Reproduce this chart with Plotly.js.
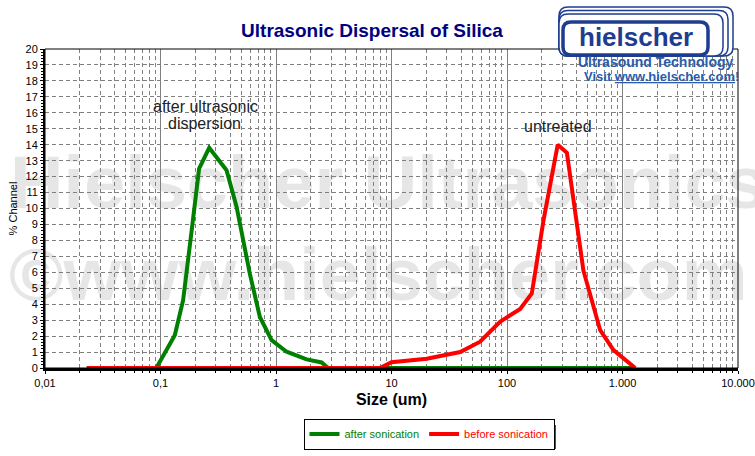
<!DOCTYPE html>
<html>
<head>
<meta charset="utf-8">
<script src="https://cdn.plot.ly/plotly-3.0.1.min.js"></script>
<style>
  html, body { margin: 0; padding: 0; background: #fff; }
  #chart { width: 755px; height: 456px; }
</style>
</head>
<body>
<div id="chart"></div>
<script>
// particle size (um) and % channel
const sizeAfter = [0.023, 0.092, 0.133, 0.157, 0.186, 0.216, 0.264, 0.373, 0.456, 0.594, 0.725, 0.916, 1.236, 1.84, 2.48, 2.83, 1290];
const chanAfter = [0, 0, 2.06, 4.25, 8.6, 12.5, 13.8, 12.4, 10.1, 5.9, 3.2, 1.75, 1.02, 0.54, 0.35, 0, 0];

const sizeBefore = [0.023, 7.94, 10, 20.2, 39.3, 58.5, 87, 130, 164, 207, 275, 330, 459, 641, 836, 1290];
const chanBefore = [0, 0, 0.36, 0.58, 1.0, 1.65, 2.9, 3.7, 4.67, 9.25, 14.0, 13.5, 6.1, 2.37, 1.12, 0];

const xTickVals = [0.01, 0.1, 1, 10, 100, 1000, 10000];
const xTickText = ['0,01', '0,1', '1', '10', '100', '1.000', '10.000'];

const FONT = 'Arial, "Liberation Sans", sans-serif';
const NAVY = '#1f3d8f';

// plot area in pixels: x 45..738, y 49..368
const W = 755, H = 456;
const L = 45, R = 738, T = 49, B = 368;
const px = x => (x - L) / (R - L);
const py = y => (B - y) / (B - T);

function roundRect(x0, y0, x1, y1, r) {
  const p = (x, y) => px(x) + ',' + py(y);
  return 'M' + p(x0 + r, y0) + ' L' + p(x1 - r, y0) + ' Q' + p(x1, y0) + ' ' + p(x1, y0 + r) +
    ' L' + p(x1, y1 - r) + ' Q' + p(x1, y1) + ' ' + p(x1 - r, y1) +
    ' L' + p(x0 + r, y1) + ' Q' + p(x0, y1) + ' ' + p(x0, y1 - r) +
    ' L' + p(x0, y0 + r) + ' Q' + p(x0, y0) + ' ' + p(x0 + r, y0) + ' Z';
}

function note(text, x, y, font) {
  return { text: text, x: px(x), y: py(y), xref: 'paper', yref: 'paper',
    xanchor: 'center', yanchor: 'middle', showarrow: false, font: font };
}

var data = [
  {
    x: sizeAfter,
    y: chanAfter,
    type: 'scatter',
    mode: 'lines',
    name: '<span style="color:#008000">after sonication</span>',
    line: { color: '#008000', width: 4 },
    cliponaxis: false
  },
  {
    x: sizeBefore,
    y: chanBefore,
    type: 'scatter',
    mode: 'lines',
    name: '<span style="color:#ff0000">before sonication</span>',
    line: { color: '#ff0000', width: 4 },
    cliponaxis: false
  }
];

var wmFont = { color: '#e6e6e6', size: 74, family: FONT, weight: 'bold' };

var shapes = [
  // watermark text behind the grid
  {
    type: 'rect', xref: 'paper', yref: 'paper', layer: 'below',
    x0: px(7), x1: px(800), y0: py(150), y1: py(200),
    line: { width: 0 }, fillcolor: 'rgba(0,0,0,0)',
    label: { text: 'Hielscher Ultrasonics', textposition: 'middle left', padding: 0, font: wmFont }
  },
  {
    type: 'rect', xref: 'paper', yref: 'paper', layer: 'below',
    x0: px(6), x1: px(800), y0: py(242), y1: py(292),
    line: { width: 0 }, fillcolor: 'rgba(0,0,0,0)',
    label: { text: '\u00a9www.hielscher.com', textposition: 'middle left', padding: 0, font: wmFont }
  },
  // thin frame on top and right
  {
    type: 'rect', xref: 'paper', yref: 'paper', layer: 'above',
    x0: 0, x1: 1, y0: 0, y1: 1, line: { color: 'black', width: 1 }
  },
  // legend shadow
  {
    type: 'rect', xref: 'paper', yref: 'paper', layer: 'below',
    x0: px(308), x1: px(556), y0: py(425), y1: py(449),
    line: { width: 0 }, fillcolor: '#505050'
  },
  // logo frames
  { type: 'path', xref: 'paper', yref: 'paper', layer: 'above', path: roundRect(559, 7, 733, 56, 9), line: { color: NAVY, width: 1.5 }, fillcolor: 'white' },
  { type: 'path', xref: 'paper', yref: 'paper', layer: 'above', path: roundRect(559, 10.5, 728, 56, 9), line: { color: NAVY, width: 1.5 }, fillcolor: 'white' },
  { type: 'path', xref: 'paper', yref: 'paper', layer: 'above', path: roundRect(559, 14, 723, 56, 9), line: { color: NAVY, width: 1.5 }, fillcolor: 'white' },
  { type: 'path', xref: 'paper', yref: 'paper', layer: 'above', path: roundRect(563, 22, 708, 55, 8), line: { color: NAVY, width: 3.5 }, fillcolor: 'white' }
];

var labelFont = { size: 16, color: '#222', family: FONT };

var annotations = [
  note('after ultrasonic', 205, 107, labelFont),
  note('dispersion', 204, 123, labelFont),
  note('untreated', 558, 126, labelFont),
  // logo text
  note('hielscher', 636, 37, { size: 26, color: NAVY, family: FONT, weight: 'bold' }),
  note('Ultrasound Technology', 656, 62, { size: 14, color: '#2a5caa', family: FONT, weight: 'bold' }),
  note('Visit <u>www.hielscher.com</u>!', 661, 76, { size: 13, color: '#2a5caa', family: FONT, weight: 'bold' })
];

var layout = {
  width: W,
  height: H,
  paper_bgcolor: 'white',
  plot_bgcolor: 'white',
  font: { family: FONT, color: 'black', size: 11 },
  margin: { l: L, r: W - R, t: T, b: H - B },
  title: {
    text: 'Ultrasonic Dispersal of Silica',
    x: 372 / W, xanchor: 'center',
    y: 1 - 30 / H, yanchor: 'middle',
    font: { size: 19, color: '#000080', family: FONT, weight: 'bold' }
  },
  xaxis: {
    type: 'log',
    range: [-2, 4],
    tickmode: 'array',
    tickvals: xTickVals,
    ticktext: xTickText,
    tickfont: { size: 11 },
    ticks: 'outside', ticklen: 3, tickcolor: 'black',
    showgrid: true, gridcolor: '#808080', gridwidth: 1,
    minor: { dtick: 'D1', showgrid: true, gridcolor: '#808080', griddash: '4px,3px', ticks: 'outside', ticklen: 2, tickcolor: 'black' },
    showline: true, linecolor: 'black', linewidth: 3,
    zeroline: false,
    layer: 'below traces',
    title: { text: 'Size (um)', font: { size: 16, family: FONT, weight: 'bold' }, standoff: 6 }
  },
  yaxis: {
    range: [0, 20],
    dtick: 1,
    tickfont: { size: 11 },
    ticks: 'outside', ticklen: 3, tickcolor: 'black',
    showgrid: true, gridcolor: '#808080', griddash: '4px,3px', gridwidth: 1,
    minor: { dtick: 0.2, ticks: 'outside', ticklen: 2, tickcolor: 'black', showgrid: false },
    showline: true, linecolor: 'black', linewidth: 2,
    zeroline: false,
    layer: 'below traces',
    title: { text: '% Channel', font: { size: 11 }, standoff: 6 }
  },
  showlegend: true,
  legend: {
    orientation: 'h',
    xref: 'container', yref: 'container',
    x: 429 / W, xanchor: 'center',
    y: 1 - 434 / H, yanchor: 'middle',
    bgcolor: 'white', bordercolor: 'black', borderwidth: 1,
    font: { size: 11 },
    itemwidth: 30
  },
  shapes: shapes,
  annotations: annotations
};

Plotly.newPlot('chart', data, layout, { displayModeBar: false, staticPlot: true });
</script>
</body>
</html>
